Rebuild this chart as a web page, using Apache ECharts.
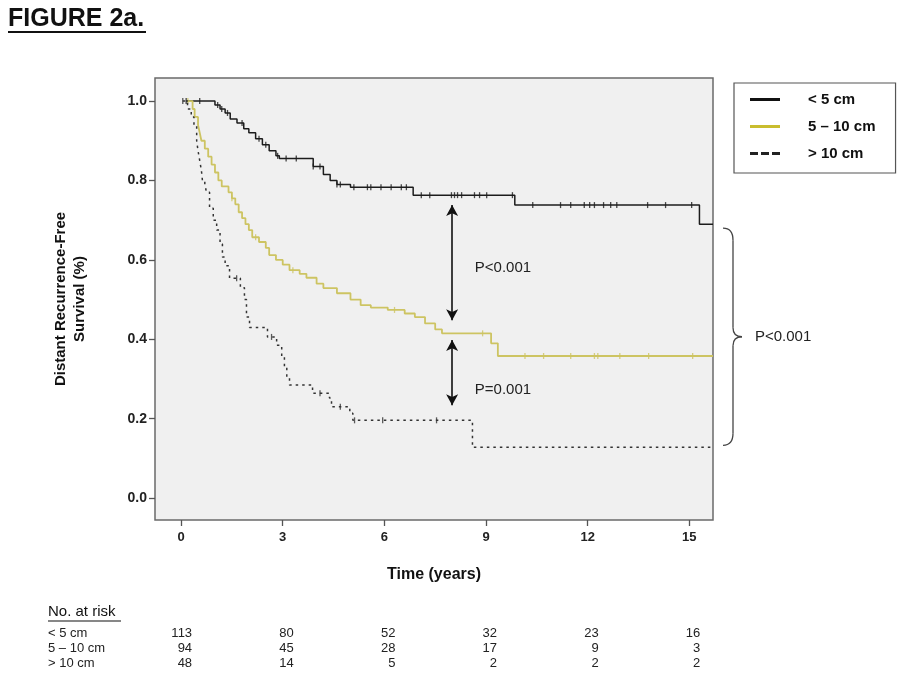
<!DOCTYPE html>
<html>
<head>
<meta charset="utf-8">
<script src="https://cdn.jsdelivr.net/npm/echarts@6/dist/echarts.min.js"></script>
<style>
html,body{margin:0;padding:0;background:#fff;}
#c{width:916px;height:691px;}
</style>
</head>
<body>
<div id="c"></div>
<script>
// ---------- data ----------
const seriesNames = ['< 5 cm', '5 – 10 cm', '> 10 cm'];
const timeTicks = [0, 3, 6, 9, 12, 15];
const survTicks = [0, 0.2, 0.4, 0.6, 0.8, 1.0];

// Kaplan-Meier steps [time (years), survival]
const kmLt5 = [[0.15,1.0],[1.0,0.99],[1.15,0.98],[1.3,0.97],[1.45,0.955],[1.65,0.945],[1.85,0.93],[2.0,0.92],[2.2,0.905],[2.4,0.89],[2.6,0.875],[2.8,0.862],[2.9,0.855],[3.9,0.835],[4.2,0.815],[4.4,0.80],[4.6,0.79],[5.0,0.783],[6.85,0.763],[9.85,0.738],[15.3,0.69],[15.7,0.69]];
const km5to10 = [[0.2,1.0],[0.34,0.98],[0.4,0.96],[0.5,0.94],[0.55,0.92],[0.6,0.90],[0.7,0.88],[0.8,0.86],[0.9,0.84],[1.0,0.82],[1.1,0.80],[1.2,0.785],[1.4,0.77],[1.5,0.755],[1.6,0.74],[1.7,0.72],[1.8,0.705],[1.9,0.69],[2.0,0.675],[2.1,0.657],[2.3,0.645],[2.5,0.63],[2.6,0.612],[2.8,0.60],[3.0,0.588],[3.2,0.574],[3.5,0.565],[3.7,0.555],[4.0,0.54],[4.2,0.529],[4.6,0.516],[5.0,0.50],[5.3,0.486],[5.6,0.48],[6.1,0.474],[6.6,0.465],[6.9,0.456],[7.2,0.44],[7.5,0.425],[7.7,0.415],[9.15,0.39],[9.35,0.358],[15.7,0.358]];
const kmGt10 = [[0.05,1.0],[0.19,0.98],[0.3,0.96],[0.38,0.94],[0.46,0.90],[0.5,0.875],[0.55,0.85],[0.6,0.825],[0.63,0.80],[0.7,0.79],[0.75,0.77],[0.84,0.73],[0.95,0.70],[1.05,0.675],[1.15,0.64],[1.22,0.607],[1.3,0.585],[1.43,0.554],[1.75,0.53],[1.87,0.50],[1.93,0.456],[2.02,0.43],[2.55,0.406],[2.82,0.385],[2.97,0.355],[3.05,0.33],[3.12,0.305],[3.2,0.285],[3.88,0.264],[4.38,0.252],[4.44,0.23],[4.98,0.214],[5.07,0.196],[8.6,0.128],[15.7,0.128]];

// censoring times (years)
const censLt5 = [0.15,0.55,1.08,1.2,1.37,1.8,2.3,2.5,2.85,3.1,3.4,3.9,4.1,4.6,4.7,5.1,5.5,5.6,5.9,6.2,6.5,6.65,7.09,7.34,7.98,8.07,8.16,8.28,8.66,8.81,9.02,9.78,10.38,11.2,11.5,11.9,12.06,12.2,12.47,12.68,12.86,13.77,14.3,15.07];
const cens5to10 = [0.2,1.5,2.2,3.3,6.3,8.9,10.15,10.7,11.5,12.2,12.3,12.95,13.8,15.1];
const censGt10 = [0.05,1.64,2.67,4.1,4.7,5.12,5.95,7.54];

// at-risk table
const atRisk = [
  [113, 80, 52, 32, 23, 16],
  [94, 45, 28, 17, 9, 3],
  [48, 14, 5, 2, 2, 2]
];

// annotations: [time, survFrom, survTo]
const arrowUpper = [8.0, 0.738, 0.448];
const arrowLower = [8.0, 0.398, 0.234];
const pTextUpper = ['P<0.001', 8.67, 0.58];
const pTextLower = ['P=0.001', 8.67, 0.272];
const pTextOverall = 'P<0.001';

// ---------- helpers ----------
function survAt(km, t) {
  let s = km[0][1];
  for (const p of km) { if (p[0] <= t + 1e-9) s = p[1]; else break; }
  return s;
}
function censorPoints(km, times) { return times.map(t => [t, survAt(km, t)]); }

const FONT = '"Liberation Sans", Arial, sans-serif';
const colors = ['#1c1c1c', '#cdc462', '#333333'];
const legendColors = ['#111111', '#c9bd2e', '#222222'];

const chart = echarts.init(document.getElementById('c'), null, {renderer: 'canvas'});

const option = {
  animation: false,
  backgroundColor: '#ffffff',
  textStyle: {fontFamily: FONT},
  grid: {left: 155, right: 203, top: 78, bottom: 171, show: true, backgroundColor: '#f0f0f0', borderColor: '#6a6a6a', borderWidth: 1.5},
  legend: {
    orient: 'vertical', left: 734, top: 83,
    data: [
      {name: seriesNames[0], icon: 'rect', itemStyle: {color: legendColors[0]}},
      {name: seriesNames[1], icon: 'rect', itemStyle: {color: legendColors[1]}},
      {name: seriesNames[2], icon: 'path://M0,0h8v3h-8z M11,0h8v3h-8z M22,0h8v3h-8z', itemStyle: {color: legendColors[2]}}
    ],
    padding: [8, 20, 11, 16],
    itemWidth: 30, itemHeight: 3, itemGap: 10,
    borderColor: '#555', borderWidth: 1.2, borderRadius: 0,
    textStyle: {fontFamily: FONT, fontWeight: 'bold', fontSize: 15, color: '#111', padding: [0, 0, 0, 23], lineHeight: 17},
    selectedMode: false
  },
  xAxis: {
    type: 'value', min: -0.77, max: 15.7,
    name: 'Time (years)', nameLocation: 'middle', nameGap: 47,
    nameTextStyle: {fontFamily: FONT, fontWeight: 'bold', fontSize: 16, color: '#111'},
    axisLine: {show: false, onZero: false},
    axisTick: {show: true, length: 6, customValues: timeTicks, lineStyle: {color: '#555', width: 1.3}},
    axisLabel: {customValues: timeTicks, fontFamily: FONT, fontWeight: 'bold', fontSize: 13, color: '#222', margin: 11},
    splitLine: {show: false}
  },
  yAxis: {
    type: 'value', min: -0.055, max: 1.058,
    name: 'Distant Recurrence-Free\nSurvival (%)', nameLocation: 'middle', nameGap: 66, nameRotate: 90,
    nameTextStyle: {fontFamily: FONT, fontWeight: 'bold', fontSize: 15, color: '#111', lineHeight: 19},
    axisLine: {show: false, onZero: false},
    axisTick: {show: true, length: 6, customValues: survTicks, lineStyle: {color: '#555', width: 1.3}},
    axisLabel: {customValues: survTicks, fontFamily: FONT, fontWeight: 'bold', fontSize: 14, color: '#222', margin: 8,
      formatter: v => v.toFixed(1)},
    splitLine: {show: false}
  },
  series: [
    {name: seriesNames[0], type: 'line', step: 'end', data: kmLt5, symbol: 'none',
      lineStyle: {color: colors[0], width: 1.5}, itemStyle: {color: colors[0]},
      markLine: {silent: true, symbol: ['arrow', 'arrow'], symbolSize: [9, 11],
        lineStyle: {color: '#111', width: 1.6, type: 'solid'}, label: {show: false},
        data: [
          [{coord: [arrowUpper[0], arrowUpper[1]]}, {coord: [arrowUpper[0], arrowUpper[2]]}],
          [{coord: [arrowLower[0], arrowLower[1]]}, {coord: [arrowLower[0], arrowLower[2]]}]
        ]}
    },
    {name: seriesNames[1], type: 'line', step: 'end', data: km5to10, symbol: 'none',
      lineStyle: {color: colors[1], width: 1.8}, itemStyle: {color: colors[1]}},
    {name: seriesNames[2], type: 'line', step: 'end', data: kmGt10, symbol: 'none',
      lineStyle: {color: colors[2], width: 1.5, type: [2.5, 4]}, itemStyle: {color: colors[2]}},
    {name: 'c0', type: 'scatter', data: censorPoints(kmLt5, censLt5), symbol: 'rect', symbolSize: [1.3, 6],
      itemStyle: {color: colors[0]}, silent: true},
    {name: 'c1', type: 'scatter', data: censorPoints(km5to10, cens5to10), symbol: 'rect', symbolSize: [1.3, 6],
      itemStyle: {color: colors[1]}, silent: true},
    {name: 'c2', type: 'scatter', data: censorPoints(kmGt10, censGt10), symbol: 'rect', symbolSize: [1.3, 6],
      itemStyle: {color: colors[2]}, silent: true}
  ]
};
chart.setOption(option);

// ---------- annotations positioned through the axes ----------
function px(x, y) { return chart.convertToPixel({gridIndex: 0}, [x, y]); }
const g = [];

// title
g.push({type: 'text', x: 8, y: 19, style: {text: 'FIGURE 2a.', fontFamily: FONT, fontWeight: 'bold', fontSize: 25, fill: '#111', verticalAlign: 'middle'}});
g.push({type: 'line', shape: {x1: 8, y1: 32, x2: 146, y2: 32}, style: {stroke: '#111', lineWidth: 2}});

// P values inside
[pTextUpper, pTextLower].forEach(p => {
  const q = px(p[1], p[2]);
  g.push({type: 'text', x: q[0], y: q[1], style: {text: p[0], fontFamily: FONT, fontSize: 15, fill: '#222', verticalAlign: 'middle', align: 'left'}});
});

// brace on right linking final values of <5 cm and >10 cm
const rightEnd = option.xAxis.max;
const yTop = px(rightEnd, kmLt5[kmLt5.length - 1][1])[1] + 4;
const yBot = px(rightEnd, kmGt10[kmGt10.length - 1][1])[1] - 2;
const gx = px(rightEnd, 0)[0];
const x0 = gx + 10, x1 = gx + 20, x2 = gx + 29;
const yMid = (yTop + yBot) / 2;
const braceStyle = {stroke: '#444', lineWidth: 1.3, fill: null};
g.push({type: 'bezierCurve', shape: {x1: x0, y1: yTop, cpx1: x1, cpy1: yTop, x2: x1, y2: yTop + 12}, style: braceStyle});
g.push({type: 'line', shape: {x1: x1, y1: yTop + 12, x2: x1, y2: yMid - 9}, style: braceStyle});
g.push({type: 'bezierCurve', shape: {x1: x1, y1: yMid - 9, cpx1: x1, cpy1: yMid, x2: x2, y2: yMid}, style: braceStyle});
g.push({type: 'bezierCurve', shape: {x1: x2, y1: yMid, cpx1: x1, cpy1: yMid, x2: x1, y2: yMid + 9}, style: braceStyle});
g.push({type: 'line', shape: {x1: x1, y1: yMid + 9, x2: x1, y2: yBot - 12}, style: braceStyle});
g.push({type: 'bezierCurve', shape: {x1: x1, y1: yBot - 12, cpx1: x1, cpy1: yBot, x2: x0, y2: yBot}, style: braceStyle});
g.push({type: 'text', x: x2 + 13, y: yMid, style: {text: pTextOverall, fontFamily: FONT, fontSize: 15, fill: '#222', verticalAlign: 'middle'}});

// at-risk table
g.push({type: 'text', x: 48, y: 612, style: {text: 'No. at risk', fontFamily: FONT, fontSize: 15, fill: '#111', verticalAlign: 'middle'}});
g.push({type: 'line', shape: {x1: 48, y1: 621, x2: 121, y2: 621}, style: {stroke: '#111', lineWidth: 1.2}});
const rowY = [633, 648, 663];
seriesNames.forEach((n, i) => {
  g.push({type: 'text', x: 48, y: rowY[i], style: {text: n, fontFamily: FONT, fontSize: 13, fill: '#222', verticalAlign: 'middle'}});
  timeTicks.forEach((t, j) => {
    const xp = px(t, 0)[0] + 11;
    g.push({type: 'text', x: xp, y: rowY[i], style: {text: String(atRisk[i][j]), fontFamily: FONT, fontSize: 13, fill: '#222', verticalAlign: 'middle', align: 'right'}});
  });
});

chart.setOption({graphic: g});
</script>
</body>
</html>
